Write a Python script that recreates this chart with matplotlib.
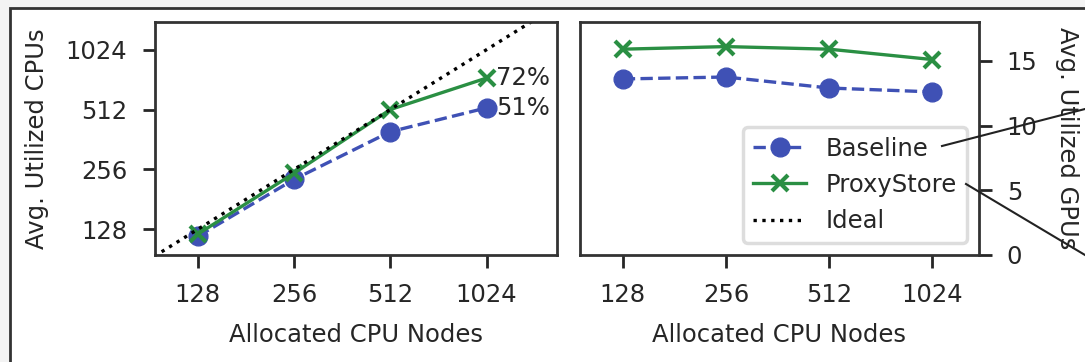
import matplotlib.pyplot as plt
from matplotlib.patches import Rectangle
from matplotlib.lines import Line2D

# data
nodes = [128, 256, 512, 1024]
cpu_baseline = [118, 228, 396, 522]
cpu_proxystore = [121, 245, 512, 737]
gpu_baseline = [13.6, 13.75, 12.9, 12.6]
gpu_proxystore = [15.9, 16.1, 15.9, 15.1]
ideal = [64, 2048]
pct_labels = ['72%', '51%']

blue = '#3f51b5'
green = '#2a8f43'
dark = '#262626'
fs = 17.5

plt.rcParams['font.family'] = ['DejaVu Sans']
plt.rcParams['font.size'] = fs
plt.rcParams['text.color'] = dark
plt.rcParams['axes.labelcolor'] = dark
plt.rcParams['xtick.color'] = dark
plt.rcParams['ytick.color'] = dark
plt.rcParams['axes.edgecolor'] = '#333333'
plt.rcParams['axes.linewidth'] = 2.0

fig = plt.figure(figsize=(10.85, 3.62), dpi=100)
fig.patch.set_facecolor('#f3f3f3')
# page frame around the figure
fig.patches.append(Rectangle((10 / 1085, -0.1), 1.2, 1 - 8 / 362 + 0.1,
                             transform=fig.transFigure, facecolor='white',
                             edgecolor='#333333', linewidth=2, zorder=-10))

ax1 = fig.add_axes([155 / 1085, 1 - 255 / 362, 402 / 1085, 233 / 362])
ax2 = fig.add_axes([580 / 1085, 1 - 255 / 362, 399 / 1085, 233 / 362])

ms = 13.5
lw = 2.4
ax1.plot(nodes, cpu_baseline, '--o', color=blue, lw=lw, ms=ms, label='Baseline')
ax1.plot(nodes, cpu_proxystore, '-x', color=green, lw=lw, ms=12, mew=3,
         label='ProxyStore')
ax1.plot(ideal, ideal, ':', color='black', lw=2.4, label='Ideal')
ax1.set_xscale('log', base=2)
ax1.set_yscale('log', base=2)
ax1.set_xlim(94, 1700)
ax1.set_ylim(95, 1410)
ax1.set_xticks(nodes)
ax1.set_xticklabels([str(n) for n in nodes])
ax1.set_yticks(nodes)
ax1.set_yticklabels([str(n) for n in nodes])
ax1.minorticks_off()
ax1.set_xlabel('Allocated CPU Nodes', labelpad=12)
ax1.set_ylabel('Avg. Utilized CPUs', labelpad=12)
ax1.text(nodes[-1] * 1.07, cpu_proxystore[-1], pct_labels[0], va='center',
         ha='left', fontsize=fs)
ax1.text(nodes[-1] * 1.07, cpu_baseline[-1], pct_labels[1], va='center',
         ha='left', fontsize=fs)

ax2.plot(nodes, gpu_baseline, '--o', color=blue, lw=lw, ms=ms, label='Baseline')
ax2.plot(nodes, gpu_proxystore, '-x', color=green, lw=lw, ms=12, mew=3,
         label='ProxyStore')
ax2.plot([], [], ':', color='black', lw=2.4, label='Ideal')
ax2.set_xscale('log', base=2)
ax2.set_xlim(96, 1402)
ax2.set_xticks(nodes)
ax2.set_xticklabels([str(n) for n in nodes])
ax2.minorticks_off()
ax2.set_ylim(0, 18)
ax2.set_yticks([0, 5, 10, 15])
ax2.yaxis.tick_right()
ax2.yaxis.set_label_position('right')
ax2.set_xlabel('Allocated CPU Nodes', labelpad=12)
ax2.set_ylabel('Avg. Utilized GPUs', rotation=270, labelpad=30)
leg = ax2.legend(loc='lower right', fontsize=fs, fancybox=True,
                 framealpha=1, edgecolor='#dddddd', handlelength=2.2)
leg.get_frame().set_linewidth(2.5)

for ax in (ax1, ax2):
    ax.tick_params(axis='both', length=9, width=2, labelsize=fs, pad=11)

# stray connector lines crossing the right edge
fig.lines.append(Line2D([942 / 1085, 1.0], [1 - 146 / 362, 1 - 109 / 362],
                        transform=fig.transFigure, color='#222222', lw=1.5))
fig.lines.append(Line2D([966 / 1085, 1.0], [1 - 184 / 362, 1 - 255 / 362],
                        transform=fig.transFigure, color='#222222', lw=1.5))

fig.savefig('out.png', dpi=100, facecolor=fig.get_facecolor())
